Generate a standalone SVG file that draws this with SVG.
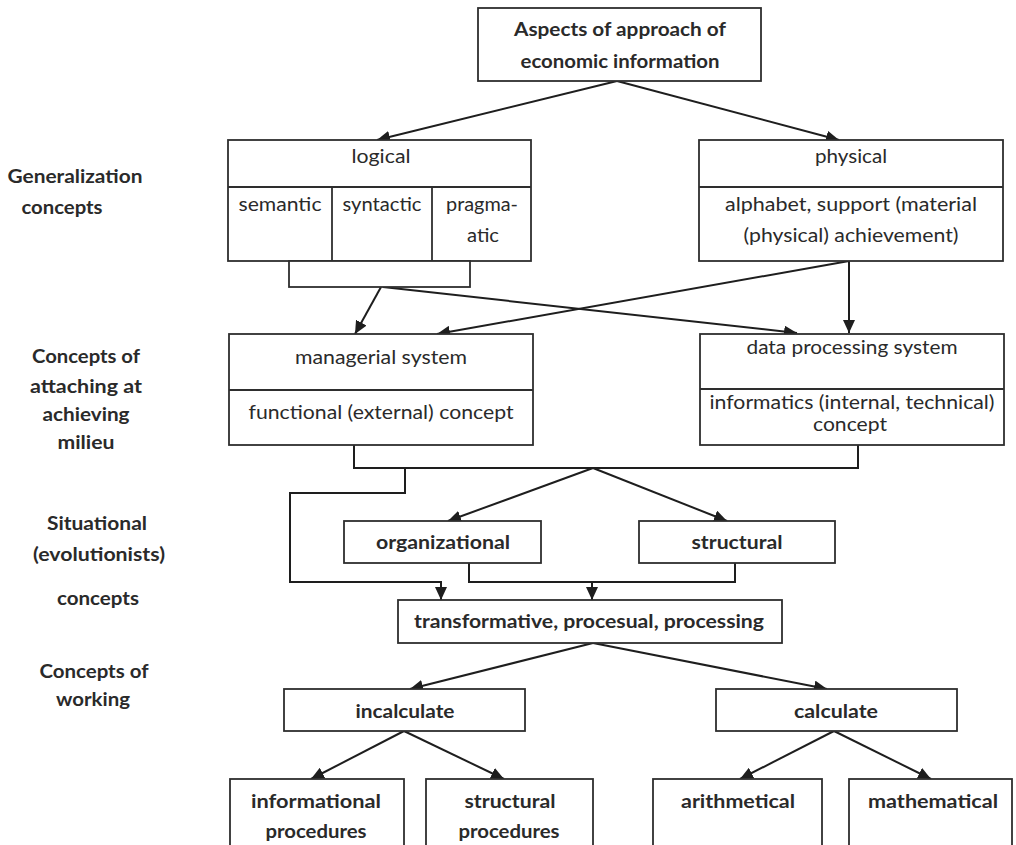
<svg xmlns="http://www.w3.org/2000/svg" width="1016" height="845" viewBox="0 0 1016 845">
<defs>
<marker id="ah" markerUnits="userSpaceOnUse" markerWidth="14" markerHeight="12" refX="13" refY="6" orient="auto">
<path d="M0,0 L13,6 L0,12 Z" fill="#1e1e1e"/>
</marker>
<style>
.box{fill:#fff;stroke:#2e2e2e;stroke-width:1.8}
.ln{fill:none;stroke:#1e1e1e;stroke-width:2}
.ar{fill:none;stroke:#1e1e1e;stroke-width:2;marker-end:url(#ah)}
text{font-family:Lato,"Liberation Sans",sans-serif;font-size:19.5px;fill:#2a2a2a;text-anchor:middle}
.b{font-weight:bold;font-size:19px}
</style>
</defs>
<rect width="1016" height="845" fill="#fff"/>

<g id="labels">
<text class="b" x="75" y="183" textLength="135" lengthAdjust="spacingAndGlyphs">Generalization</text>
<text class="b" x="62" y="214" textLength="81" lengthAdjust="spacingAndGlyphs">concepts</text>
<text class="b" x="86" y="363" textLength="108" lengthAdjust="spacingAndGlyphs">Concepts of</text>
<text class="b" x="86" y="393" textLength="112" lengthAdjust="spacingAndGlyphs">attaching at</text>
<text class="b" x="86" y="421" textLength="87" lengthAdjust="spacingAndGlyphs">achieving</text>
<text class="b" x="86" y="449" textLength="57" lengthAdjust="spacingAndGlyphs">milieu</text>
<text class="b" x="97" y="530" textLength="100" lengthAdjust="spacingAndGlyphs">Situational</text>
<text class="b" x="99" y="561" textLength="132" lengthAdjust="spacingAndGlyphs">(evolutionists)</text>
<text class="b" x="98" y="605" textLength="82" lengthAdjust="spacingAndGlyphs">concepts</text>
<text class="b" x="94" y="678" textLength="109" lengthAdjust="spacingAndGlyphs">Concepts of</text>
<text class="b" x="93" y="706" textLength="74" lengthAdjust="spacingAndGlyphs">working</text>
</g>

<g id="connectors">
<line class="ar" x1="617" y1="81" x2="377" y2="140"/>
<line class="ar" x1="617" y1="81" x2="839" y2="140"/>
<line class="ar" x1="381" y1="287" x2="355" y2="334"/>
<line class="ar" x1="383" y1="287" x2="797" y2="333"/>
<line class="ar" x1="849" y1="261" x2="849" y2="333"/>
<line class="ar" x1="849" y1="261" x2="437" y2="334"/>
<path class="ln" d="M354,445 V468 H858 V445"/>
<line class="ar" x1="593" y1="468" x2="448" y2="521"/>
<line class="ar" x1="593" y1="468" x2="727" y2="521"/>
<path class="ar" d="M405,468 V493 H290 V582 H441 V600"/>
<path class="ln" d="M469,563 V582 H735 V563"/>
<path class="ar" d="M592,582 V600"/>
<line class="ar" x1="593" y1="643" x2="410" y2="689"/>
<line class="ar" x1="593" y1="643" x2="827" y2="689"/>
<line class="ar" x1="404" y1="731" x2="311" y2="779"/>
<line class="ar" x1="404" y1="731" x2="504" y2="779"/>
<line class="ar" x1="834" y1="731" x2="740" y2="779"/>
<line class="ar" x1="834" y1="731" x2="931" y2="779"/>
</g>

<g id="aspects">
<rect class="box" x="478" y="8" width="283" height="73"/>
<text class="b" x="620" y="36" textLength="212" lengthAdjust="spacingAndGlyphs">Aspects of approach of</text>
<text class="b" x="620" y="68" textLength="199" lengthAdjust="spacingAndGlyphs">economic information</text>
</g>

<g id="logical">
<rect class="box" x="228" y="140" width="303" height="121"/>
<line class="box" x1="228" y1="187" x2="531" y2="187"/>
<line class="box" x1="332" y1="187" x2="332" y2="261"/>
<line class="box" x1="432" y1="187" x2="432" y2="261"/>
<text x="381" y="163" textLength="59" lengthAdjust="spacingAndGlyphs">logical</text>
<text x="280" y="211" textLength="83" lengthAdjust="spacingAndGlyphs">semantic</text>
<text x="382" y="211" textLength="79" lengthAdjust="spacingAndGlyphs">syntactic</text>
<text x="482" y="211" textLength="72" lengthAdjust="spacingAndGlyphs">pragma-</text>
<text x="483" y="242" textLength="32" lengthAdjust="spacingAndGlyphs">atic</text>
</g>

<g id="logical-join">
<rect class="box" x="289" y="261" width="181" height="26"/>
</g>

<g id="physical">
<rect class="box" x="699" y="140" width="304" height="121"/>
<line class="box" x1="699" y1="187" x2="1003" y2="187"/>
<text x="851" y="163" textLength="72" lengthAdjust="spacingAndGlyphs">physical</text>
<text x="851" y="211" textLength="252" lengthAdjust="spacingAndGlyphs">alphabet, support (material</text>
<text x="851" y="242" textLength="215" lengthAdjust="spacingAndGlyphs">(physical) achievement)</text>
</g>

<g id="managerial">
<rect class="box" x="229" y="334" width="304" height="111"/>
<line class="box" x1="229" y1="390" x2="533" y2="390"/>
<text x="381" y="364" textLength="172" lengthAdjust="spacingAndGlyphs">managerial system</text>
<text x="381" y="419" textLength="265" lengthAdjust="spacingAndGlyphs">functional (external) concept</text>
</g>

<g id="dataprocessing">
<rect class="box" x="700" y="334" width="304" height="111"/>
<line class="box" x1="700" y1="389" x2="1004" y2="389"/>
<text x="852" y="354" textLength="211" lengthAdjust="spacingAndGlyphs">data processing system</text>
<text x="852" y="409" textLength="285" lengthAdjust="spacingAndGlyphs">informatics (internal, technical)</text>
<text x="850" y="431" textLength="74" lengthAdjust="spacingAndGlyphs">concept</text>
</g>

<g id="organizational">
<rect class="box" x="344" y="521" width="197" height="42"/>
<text class="b" x="443" y="549" textLength="134" lengthAdjust="spacingAndGlyphs">organizational</text>
</g>

<g id="structural">
<rect class="box" x="639" y="521" width="196" height="42"/>
<text class="b" x="737" y="549" textLength="91" lengthAdjust="spacingAndGlyphs">structural</text>
</g>

<g id="transformative">
<rect class="box" x="398" y="600" width="384" height="43"/>
<text class="b" x="589" y="628" textLength="350" lengthAdjust="spacingAndGlyphs">transformative, procesual, processing</text>
</g>

<g id="incalculate">
<rect class="box" x="284" y="689" width="241" height="42"/>
<text class="b" x="405" y="718" textLength="99" lengthAdjust="spacingAndGlyphs">incalculate</text>
</g>

<g id="calculate">
<rect class="box" x="716" y="689" width="241" height="42"/>
<text class="b" x="836" y="718" textLength="84" lengthAdjust="spacingAndGlyphs">calculate</text>
</g>

<g id="informational">
<rect class="box" x="230" y="779" width="174" height="90"/>
<text class="b" x="316" y="808" textLength="130" lengthAdjust="spacingAndGlyphs">informational</text>
<text class="b" x="316" y="838" textLength="101" lengthAdjust="spacingAndGlyphs">procedures</text>
</g>

<g id="structural-procedures">
<rect class="box" x="426" y="779" width="167" height="90"/>
<text class="b" x="510" y="808" textLength="91" lengthAdjust="spacingAndGlyphs">structural</text>
<text class="b" x="509" y="838" textLength="101" lengthAdjust="spacingAndGlyphs">procedures</text>
</g>

<g id="arithmetical">
<rect class="box" x="653" y="779" width="169" height="90"/>
<text class="b" x="738" y="808" textLength="114" lengthAdjust="spacingAndGlyphs">arithmetical</text>
</g>

<g id="mathematical">
<rect class="box" x="849" y="779" width="163" height="90"/>
<text class="b" x="933" y="808" textLength="130" lengthAdjust="spacingAndGlyphs">mathematical</text>
</g>
</svg>
